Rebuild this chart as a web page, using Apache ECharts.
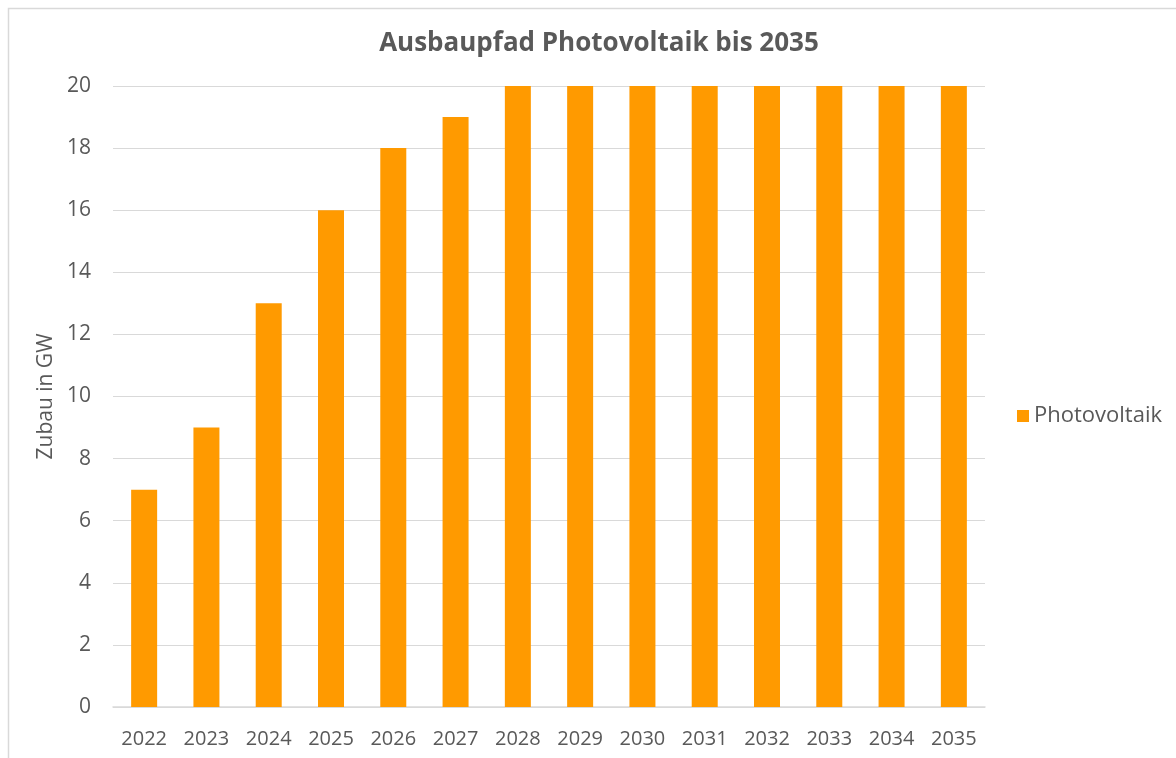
<!DOCTYPE html>
<html><head><meta charset="utf-8">
<script src="https://cdn.jsdelivr.net/npm/echarts@6/dist/echarts.min.js"></script>
<style>html,body{margin:0;padding:0;background:#fff}#c{width:1176px;height:758px}</style>
</head><body><div id="c"></div>
<script>
const years = ['2022','2023','2024','2025','2026','2027','2028','2029','2030','2031','2032','2033','2034','2035'];
const photovoltaik = [7,9,13,16,18,19,20,20,20,20,20,20,20,20];
const chart = echarts.init(document.getElementById('c'));
const font = "'Open Sans', 'Liberation Sans', sans-serif";
chart.setOption({
  animation: false,
  backgroundColor: '#fff',
  graphic: [{type:'rect', shape:{x:8.5,y:8.5,width:1200,height:800}, style:{fill:'none', stroke:'#d9d9d9', lineWidth:1.5}, silent:true}],
  title: {text:'Ausbaupfad Photovoltaik bis 2035', left:594, top:26, textAlign:'center',
    textStyle:{fontFamily:font, fontSize:26, fontWeight:'bold', color:'#595959'}},
  legend: {data:['Photovoltaik'], left:1012, top:400, itemWidth:12, itemHeight:12, icon:'rect', itemGap:9,
    textStyle:{fontFamily:font, fontSize:22, color:'#595959'}},
  grid: {left:113, right:191, top:86, bottom:51},
  xAxis: {type:'category', data:years,
    axisLine:{lineStyle:{color:'#d9d9d9', width:1.5}}, axisTick:{show:false},
    axisLabel:{interval:0, fontFamily:font, fontSize:20, color:'#595959', margin:22}},
  yAxis: {type:'value', min:0, max:20, interval:2, name:'Zubau in GW', nameLocation:'middle', nameGap:56,
    nameTextStyle:{fontFamily:font, fontSize:21, color:'#595959'},
    axisLine:{show:false}, axisTick:{show:false},
    axisLabel:{fontFamily:font, fontSize:21, color:'#595959', margin:22},
    splitLine:{lineStyle:{color:'#d9d9d9', width:1.2}}},
  series: [{name:'Photovoltaik', type:'bar', data:photovoltaik, barWidth:26, itemStyle:{color:'#ff9a00'}}]
});
</script></body></html>
